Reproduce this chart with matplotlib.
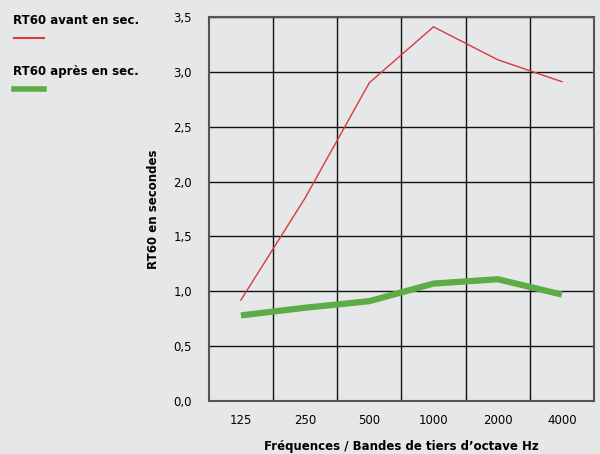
import matplotlib
matplotlib.use("Agg")
import matplotlib.pyplot as plt
import numpy as np

# data
freqs = ['125', '250', '500', '1000', '2000', '4000']
rt60_avant = [0.92, 1.85, 2.90, 3.41, 3.11, 2.91]
rt60_apres = [0.78, 0.85, 0.91, 1.07, 1.11, 0.97]
yticks = [0.0, 0.5, 1.0, 1.5, 2.0, 2.5, 3.0, 3.5]

bg = '#e6e7e8'
red = '#d9393f'
green = '#5cad45'

plt.rcParams['font.family'] = ['DejaVu Sans']

fig = plt.figure(figsize=(6, 4.54), dpi=100, facecolor=bg)
ax = fig.add_axes([0.348, 0.1167, 0.642, 0.846], facecolor=bg)

x = np.arange(len(freqs))
ax.plot(x, rt60_avant, color=red, lw=1.0, zorder=3)
ax.plot(x, rt60_apres, color=green, lw=4.5, zorder=3, solid_capstyle='butt')

ax.set_xlim(-0.5, len(freqs) - 0.5)
ax.set_ylim(0, 3.5)
ax.set_yticks(yticks)
ax.set_yticklabels([f'{v:.1f}'.replace('.', ',') for v in yticks])
ax.set_xticks(x)
ax.set_xticklabels(freqs)
ax.set_xticks(x[:-1] + 0.5, minor=True)
ax.tick_params(which='both', length=0)
ax.tick_params(axis='y', pad=12, labelsize=8.5)
ax.tick_params(axis='x', pad=9, labelsize=8.5)
ax.grid(True, which='minor', axis='x', color='#111111', lw=1.0)
ax.grid(True, which='major', axis='y', color='#111111', lw=1.0)
for s in ax.spines.values():
    s.set_color('#555555')
    s.set_linewidth(1.5)

ax.set_ylabel('RT60 en secondes', fontsize=8.5, fontweight='bold', labelpad=10)
ax.set_xlabel('Fréquences / Bandes de tiers d\u2019octave Hz', fontsize=8.5,
              fontweight='bold', labelpad=10)

# legend drawn as text + short lines on the left
fig.text(0.022, 0.955, 'RT60 avant en sec.', fontsize=8.5, fontweight='bold',
         va='center', ha='left')
fig.add_artist(plt.Line2D([0.024, 0.074], [0.917, 0.917], color=red, lw=1.5))
fig.text(0.022, 0.842, 'RT60 après en sec.', fontsize=8.5, fontweight='bold',
         va='center', ha='left')
fig.add_artist(plt.Line2D([0.024, 0.074], [0.805, 0.805], color=green, lw=4))

fig.savefig('out.png', dpi=100, facecolor=bg)
